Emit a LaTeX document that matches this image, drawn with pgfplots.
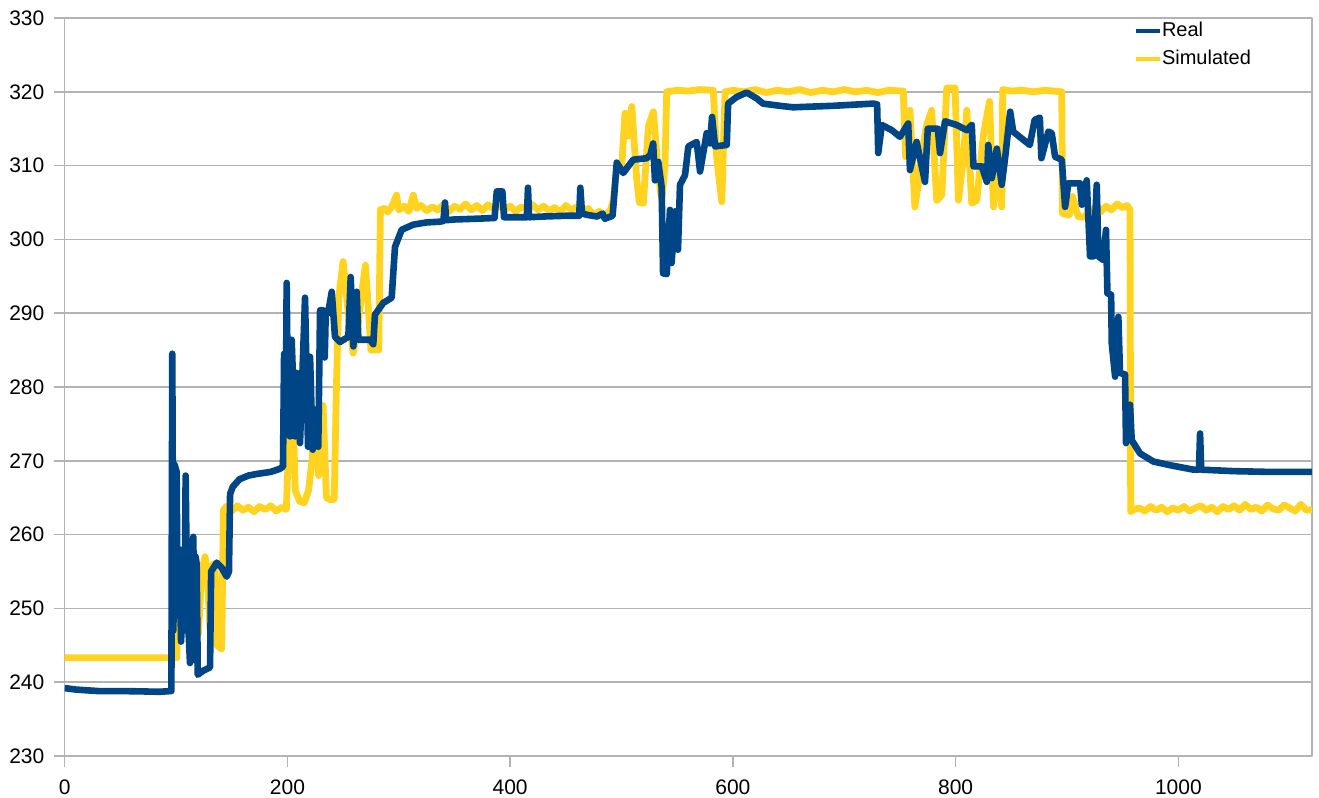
\documentclass[border=0pt]{standalone}
\usepackage{pgfplots}
\pgfplotsset{compat=1.18}
\usepackage{fontspec}
\setmainfont{Liberation Sans}
\definecolor{realc}{HTML}{004586}
\definecolor{simc}{HTML}{FFD320}
\definecolor{gridc}{HTML}{B3B3B3}
\begin{document}
\begin{tikzpicture}
\useasboundingbox (-32.35pt,-21pt) rectangle (627.15pt,378pt);
\begin{axis}[
  scale only axis,
  width=623.65pt, height=369pt,
  xmin=0, xmax=1120, ymin=230, ymax=330,
  xtick={0,200,400,600,800,1000},
  ytick={230,240,...,330},
  ymajorgrids, grid style={gridc, line width=0.75pt},
  axis line style={gridc, line width=0.75pt},
  tick style={gridc, line width=0.75pt},
  tick align=outside, major tick length=5.5pt,
  xtick pos=bottom, ytick pos=left,
  /pgf/number format/assume math mode=true,
  /pgf/number format/1000 sep={},
  ticklabel style={font=\fontsize{10.5}{12}\selectfont, text=black},
  yticklabel style={inner sep=0pt, xshift=-4.5pt, anchor=east},
  xticklabel style={inner sep=0pt, yshift=-6pt, anchor=north},
  legend style={draw=none, fill=none, at={(0.857,0.996)}, anchor=north west,
    font=\fontsize{10}{12}\selectfont, inner sep=0pt, row sep=4.5pt,
    nodes={inner sep=0pt, text height=7.5pt, text depth=2pt},
    /tikz/every even column/.append style={column sep=2.5pt}},
  legend cell align=left,
  legend image code/.code={\draw[#1, line width=2pt] (0pt,0pt) -- (12pt,0pt);},
  line join=round,
]
\addlegendimage{realc}\addlegendentry{Real}
\addlegendimage{simc}\addlegendentry{Simulated}
\addplot[simc, line width=3.4pt, forget plot] coordinates {
(0,243.3)(95.5,243.3)(100.6,243.3)(101,247)(103,248.5)(106,247)(110,252)(113,246)(117,250)(120,246.5)
(123,255)(126,257)(128,255)(130.5,247)(133,256)(135,256)(136.5,245)(141,244.5)(142.5,263.3)
(145,263.8)(150,263.2)(155,263.9)(160,263.3)(165,263.7)(170,263.1)(175,263.8)(180,263.4)(185,263.9)(190,263.2)(195,263.7)(199,263.4)
(201,272)(204,283)(207,266)(211,264.5)(215,264.3)(219,266)(222,270)(225,277)(228,268)(232,277.5)(235,265)(239,264.7)(242,264.8)
(244,280)(246,292)(250,297)(254,291)(259,284.6)(263,288)(267,293)(270,296.5)(273,290)(275,285)(282,285)(283.5,304)
(287,304.2)(290,303.7)(294,304.5)(298,306)(300,304)(305,304.5)(309,303.8)(313,306)(316,304.2)(320,304.6)(325,303.9)(330,304.4)
(335,304)(340,304.7)(345,303.8)(350,304.5)(355,304.1)(360,304.8)(365,304)(370,304.6)(375,303.9)(380,304.7)(385,304.2)(390,304.6)
(395,304)(400,304.5)(405,303.8)(410,304.4)(415,304.1)(420,304.7)(425,304)(430,304.5)(435,303.9)(440,304.3)(445,303.7)(450,304.6)
(455,304)(460,304.4)(465,303.5)(470,304.2)(475,303.3)(480,303.8)(485,303.2)(490,304)(492.6,305.3)(496,310)(500,309.5)
(503.1,317.1)(506.1,314)(509.2,318)(513.7,308)(516,305)(519.6,304.9)(524.1,315.3)(528.6,317.3)(533,309)(536.1,305.3)(539,310)
(540.6,320)(550,320.2)(560,320.1)(570,320.3)(582.4,320.2)(585.5,311)(590,305.1)(593,320)(600,320.2)
(610,320.0)(620,320.3)(630,319.9)(640,320.2)(650,320)(660,320.3)(670,319.9)(680,320.2)(690,320)(700,320.3)(710,320)(720,320.2)
(730,319.9)(740,320.2)(753,320.1)(755,311.2)(759,317.5)(763.4,304.4)(766,307)(770,312)(774,315.5)(778.5,317.5)(783,305.3)
(787.6,306)(792,320.5)(799.5,320.5)(802.5,305.3)(807,311)(810,317.5)(814.5,304.9)(819,305.3)(825,314.2)(830.4,318.7)(834,304.4)
(838.4,310.8)(841.4,304.4)(842.3,320.3)(850,320.1)(860,320.2)(870,320)(880,320.2)(895.3,320)(896,303.5)(902,303.3)(905,305.8)
(910,303.1)(915,303)(920,303.8)(925,304.2)(930,303.7)(935,304.5)(940,304)(945,304.8)(950,304.3)(954,304.6)(956.6,304)(957.2,263.1)
(960,263.4)(965,263.6)(970,263.2)(975,263.8)(980,263.3)(985,263.7)(990,263.1)(995,263.6)(1000,263.3)(1005,263.8)(1010,263.2)
(1015,263.6)(1020,263.9)(1025,263.3)(1030,263.7)(1035,263.1)(1040,263.8)(1045,263.4)(1050,263.9)(1055,263.3)(1060,264.1)
(1065,263.4)(1070,263.7)(1075,263.2)(1080,264)(1085,263.5)(1090,263.3)(1095,264)(1100,263.6)(1105,263.2)(1110,264.1)(1115,263.3)(1120,263.4)
};
\addplot[realc, line width=3.3pt, forget plot] coordinates {
(0,239.2)(10,239.0)(20,238.9)(30,238.8)(50,238.8)(70,238.75)(85,238.7)(95.8,238.8)(96.6,284.5)(97.6,247)(98.6,269.5)
(100.5,268.5)(101.5,249)(103,258)(104.5,245.5)(106,252)(107.5,247)(108.6,268)(110,250)(111.5,246)(112.5,242.6)(114,250)
(115.5,259.7)(116.5,243)(117.6,257)(118.5,256)(119.5,241)(121,241.2)(125,241.6)(130.5,242)(131.5,255)(136.5,256.2)(141,255.5)
(145.5,254.3)(147.5,255)(148.5,265.5)(151,266.5)(157,267.5)(165,268)(172,268.2)(185,268.5)(193,268.9)(196,269.2)(197,284.5)
(198.5,275)(199.3,294.1)(200.5,277)(202.3,273.3)(203.8,286.4)(206.8,273.3)(208.3,281.9)(211.3,272.4)(215.8,292.1)(218.5,271.9)
(220.3,284.1)(222.7,271.5)(224.8,276.9)(227.7,271.9)(229.3,290.4)(232,290.4)(233.5,284)(234.4,290)(236.5,290)(239.8,292.9)
(242.7,286.8)(247.2,286.1)(254.7,286.8)(256.8,294.9)(259.2,285.5)(262.2,292.9)(263.7,286.4)(274.2,286.4)(277.1,285.8)(278.6,289.8)
(286.1,291.4)(293.6,292.1)(296.6,299)(302.6,301.3)(313,302)(325,302.3)(337,302.4)(340,302.5)(341.5,305)(342.5,302.6)(350,302.7)
(370,302.8)(386,302.9)(388,306.5)(393,306.5)(394.5,303)(405,303)(415,303)(416,307)(417,303)(430,303.1)(450,303.2)(462,303.2)
(463,307)(464.5,303.5)(470,303.3)(478,303.1)(483,303.5)(485,302.8)(492,303.2)(495.7,310.4)(501.5,309)(510.5,310.8)(522.6,311)
(526,311.5)(528.4,313)(530,308)(533,310.5)(536,307.1)(537.3,295.4)(540.6,295.3)(543.5,304)(545,296.8)(548,303.8)(550.7,298.6)
(552.5,307.4)(557,308.7)(560,312.6)(567.5,313.2)(570.5,309.2)(576.5,314.4)(579.5,313)(581.3,316.6)(584,312.6)(594.5,312.8)
(595.7,318.4)(603.4,319.3)(612.4,319.9)(621.4,319.1)(627,318.4)(642.3,318.1)(654,317.9)(690,318.1)(726,318.4)(729.5,318.3)
(730.5,311.7)(733.7,315.5)(742.7,314.8)(750,313.9)(757.4,315.7)(759,309.4)(765,313.2)(768,311)(772.5,307.8)(775,315)(784,315)
(786,311.7)(790.5,316)(801,315.5)(810,314.8)(814.5,315.5)(816,309.9)(823.5,309.9)(828,307.8)(829.3,312.8)(832.5,308.3)(837,312.3)
(841.4,307.4)(844.4,311)(849,317.3)(851.7,314.6)(866.6,312.8)(871,316.2)(875.6,316.5)(877,311)(883.3,314.6)(886.3,314.4)
(889.3,311.2)(895.3,310.8)(898.3,304.4)(901.2,307.6)(911.7,307.6)(913.3,304.7)(917.7,308)(920.7,297.7)(923.7,297.7)(926.7,307.4)
(928.2,297.7)(932.6,297.2)(935,301.3)(936.3,292.7)(939.6,292.5)(940.2,285.9)(943.2,281.4)(946.1,289.5)(947.6,281.9)(952.1,281.7)
(953,272.4)(956.6,277.6)(958.1,272.8)(965.6,271)(977.6,269.9)(992.6,269.4)(1013.5,268.8)(1018.5,268.8)(1019.5,273.7)(1020.5,268.8)
(1049.4,268.6)(1080,268.5)(1119.8,268.5)
};
\end{axis}
\end{tikzpicture}
\end{document}
